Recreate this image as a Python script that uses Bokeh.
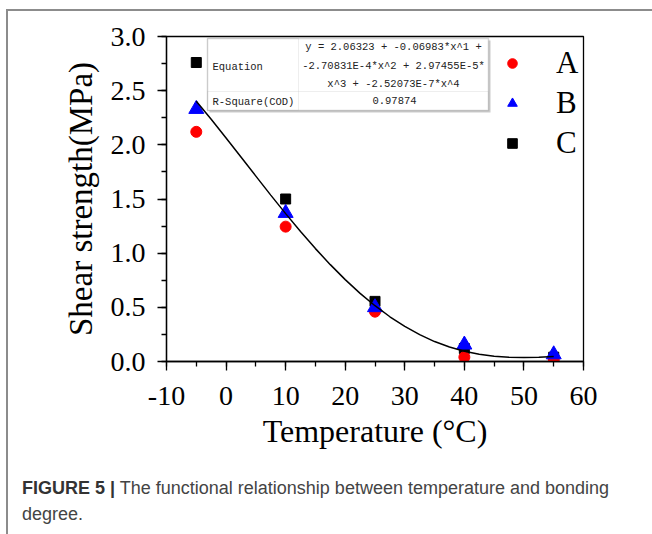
from bokeh.plotting import figure
from bokeh.models import (Label, BoxAnnotation, Legend, LegendItem, Div,
                          SingleIntervalTicker, Range1d, PrintfTickFormatter)
from bokeh.layouts import column
from bokeh.embed import file_html
from bokeh.resources import INLINE

# ---------------- data ----------------
temps = [-5, 10, 25, 40, 55]
series_A = [2.12, 1.245, 0.46, 0.04, 0.02]
series_B = [2.33, 1.37, 0.50, 0.155, 0.065]
series_C = [2.76, 1.50, 0.555, 0.12, 0.04]

fit_x = [-5, -2.5, 0, 2.5, 5, 7.5, 10, 12.5, 15, 17.5, 20, 22.5, 25,
         27.5, 30, 32.5, 35, 37.5, 40, 42.5, 45, 47.5, 50, 52.5, 55]
fit_y = [2.402, 2.236, 2.063, 1.887, 1.711, 1.536, 1.365, 1.200, 1.042,
         0.894, 0.756, 0.629, 0.515, 0.413, 0.324, 0.248, 0.184, 0.134,
         0.095, 0.067, 0.049, 0.040, 0.037, 0.040, 0.046]

legend_labels = ["A", "B", "C"]
eq_lines = ["y = 2.06323 + -0.06983*x^1 +",
            "-2.70831E-4*x^2 + 2.97455E-5*",
            "x^3 + -2.52073E-7*x^4"]
eq_row_label = "Equation"
r2_row_label = "R-Square(COD)"
r2_value = "0.97874"
x_title = "Temperature (°C)"
y_title = "Shear strength(MPa)"
caption_bold = "FIGURE 5 |"
caption_line1 = "The functional relationship between temperature and bonding"
caption_line2 = "degree."

SERIF = "Liberation Serif"

# the column content starts at (8, 11) on the page
OX, OY = 8, 11

p = figure(width=644, height=445, output_backend="svg", toolbar_location=None,
           x_range=Range1d(-10, 60), y_range=Range1d(0, 3),
           min_border_left=166 - OX, min_border_right=69,
           min_border_top=36 - OY, min_border_bottom=445 - (361 - OY))
p.background_fill_color = "white"
p.border_fill_color = "white"
p.xgrid.visible = False
p.ygrid.visible = False
p.outline_line_color = "black"
p.outline_line_width = 1.3

p.xaxis.ticker = SingleIntervalTicker(interval=10, num_minor_ticks=2)
p.yaxis.ticker = SingleIntervalTicker(interval=0.5, num_minor_ticks=2)
p.xaxis.formatter = PrintfTickFormatter(format="%d")
p.yaxis.formatter = PrintfTickFormatter(format="%.1f")

for ax in (p.xaxis, p.yaxis):
    ax.axis_line_color = "black"
    ax.axis_line_width = 1.3
    ax.major_tick_line_color = "black"
    ax.minor_tick_line_color = "black"
    ax.major_tick_line_width = 1.3
    ax.minor_tick_line_width = 1.3
    ax.major_tick_out = 9
    ax.major_tick_in = 0
    ax.minor_tick_out = 5
    ax.minor_tick_in = 0
    ax.major_label_text_font = SERIF
    ax.major_label_text_font_size = "28px"
    ax.major_label_text_color = "black"
    ax.axis_label_text_font = SERIF
    ax.axis_label_text_font_style = "normal"
    ax.axis_label_text_color = "black"

p.xaxis.axis_label_text_font_size = "32px"
p.yaxis.axis_label_text_font_size = "33px"
p.xaxis.axis_label = x_title
p.yaxis.axis_label = y_title
p.xaxis.major_label_standoff = 16
p.yaxis.major_label_standoff = 12
p.xaxis.axis_label_standoff = 5
p.yaxis.axis_label_standoff = 9

# ---------------- marks ----------------
rC = p.scatter(temps, series_C, marker="square", size=10, color="black")
rA = p.scatter(temps, series_A, marker="circle", size=11, color="#ff0000")
rB = p.scatter(temps, series_B, marker="triangle", size=15, color="#0000ff")
p.line(fit_x, fit_y, line_color="black", line_width=1.5)

legend = Legend(items=[LegendItem(label=legend_labels[0], renderers=[rA]),
                       LegendItem(label=legend_labels[1], renderers=[rB]),
                       LegendItem(label=legend_labels[2], renderers=[rC])],
                location=(334, 200))
legend.border_line_color = None
legend.background_fill_alpha = 0
legend.padding = 0
legend.margin = 0
legend.spacing = 4
legend.glyph_width = 24
legend.glyph_height = 24
legend.label_height = 20
legend.label_standoff = 32
legend.label_text_font = SERIF
legend.label_text_font_size = "31px"
legend.label_text_color = "black"
p.add_layout(legend)

# ---------------- equation table (page px, shifted to figure canvas) -------
def cbox(l, r, t, b, **kw):
    return BoxAnnotation(left=l - OX, right=r - OX, top=t - OY, bottom=b - OY,
                         left_units="canvas", right_units="canvas",
                         top_units="canvas", bottom_units="canvas", **kw)

p.add_layout(cbox(209, 490, 40, 112, fill_color="#999999", fill_alpha=0.5,
                  line_color=None))
p.add_layout(cbox(207, 488, 38, 110, fill_color="white", fill_alpha=1,
                  line_color=None))
p.add_layout(cbox(207, 298, 38, 110, fill_alpha=0, line_color="#c8c8c8",
                  line_width=1))
p.add_layout(cbox(207, 488, 91, 110, fill_alpha=0, line_color="#c8c8c8",
                  line_width=1))
p.add_layout(cbox(207, 488, 38, 110, fill_alpha=0, line_color="#7a7a7a",
                  line_width=1.5))

def clabel(x, y, text, **kw):
    return Label(x=x - OX, y=y - OY, x_units="canvas", y_units="canvas",
                 text=text, **kw)

MONO = "Liberation Mono"
for line, yy in zip(eq_lines, [46, 65, 83]):
    p.add_layout(clabel(393, yy, line, text_font=MONO, text_font_size="10.5px",
                        text_align="center", text_baseline="middle",
                        text_color="#222222"))
p.add_layout(clabel(212, 66, eq_row_label, text_font=MONO, text_font_size="10.5px",
                    text_baseline="middle", text_color="#222222"))
p.add_layout(clabel(212, 101, r2_row_label, text_font=MONO, text_font_size="10.5px",
                    text_baseline="middle", text_color="#222222"))
p.add_layout(clabel(394, 100, r2_value, text_font=MONO, text_font_size="10.5px",
                    text_align="center", text_baseline="middle",
                    text_color="#222222"))

# ---------------- caption ----------------
caption = Div(
    text=(f'<span style="font-weight:bold;color:#333333">{caption_bold}</span> '
          f'{caption_line1}<br>{caption_line2}'),
    width=630, height=78, margin=(19, 0, 0, 14),
    styles={"font-family": "Liberation Sans", "font-size": "18px",
            "color": "#444444", "line-height": "26px"})

layout = column(p, caption, margin=(9, 0, 0, 6),
                styles={"border-top": "2px solid #8c8c8c",
                        "border-left": "2px solid #8c8c8c",
                        "background-color": "white"})

open("out.html", "w").write(file_html(layout, INLINE))
